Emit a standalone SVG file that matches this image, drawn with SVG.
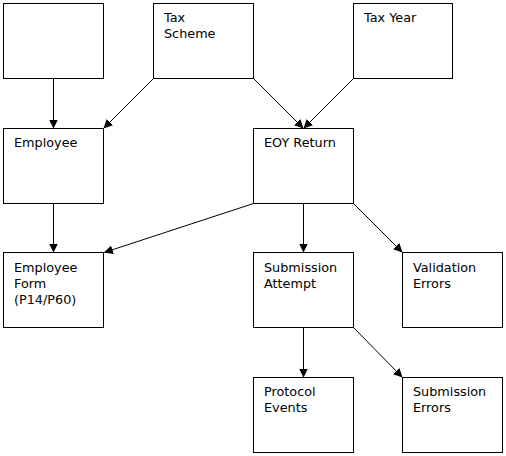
<svg xmlns="http://www.w3.org/2000/svg" width="506" height="456" viewBox="0 0 506 456">
<style>
.box{fill:#fff;stroke:#000;stroke-width:1}
.t{font-family:"DejaVu Sans",Verdana,sans-serif;font-size:12.8px;fill:#000}
.c{stroke:#000;stroke-width:1;fill:none;marker-end:url(#ah)}
</style>
<defs>
<marker id="ah" viewBox="0 0 10 10" refX="10" refY="5" markerWidth="9" markerHeight="9" markerUnits="userSpaceOnUse" orient="auto">
<path d="M0,0 L10,5 L0,10 z" fill="#000"/>
</marker>
</defs>
<rect width="506" height="456" fill="#fff"/>
<g id="connectors">
<line class="c" x1="53.5" y1="78.5" x2="53.5" y2="128.5"/>
<line class="c" x1="153.5" y1="78.5" x2="103.5" y2="128.5"/>
<line class="c" x1="253.5" y1="78.5" x2="303.5" y2="128.5"/>
<line class="c" x1="353.5" y1="78.5" x2="303.5" y2="128.5"/>
<line class="c" x1="53.5" y1="203.5" x2="53.5" y2="252.5"/>
<line class="c" x1="253.5" y1="203.5" x2="104" y2="252.5"/>
<line class="c" x1="303.5" y1="203.5" x2="303.5" y2="252.5"/>
<line class="c" x1="353.5" y1="203.5" x2="402.5" y2="252.5"/>
<line class="c" x1="303.5" y1="327.5" x2="303.5" y2="377.5"/>
<line class="c" x1="353.5" y1="327.5" x2="402.5" y2="377.5"/>
</g>
<g id="blank"><rect class="box" x="3.5" y="3.5" width="100" height="75"/></g>
<g id="tax-scheme"><rect class="box" x="153.5" y="3.5" width="100" height="75"/>
<text class="t" x="164" y="22">Tax</text><text class="t" x="164" y="38">Scheme</text></g>
<g id="tax-year"><rect class="box" x="353.5" y="3.5" width="99" height="75"/>
<text class="t" x="364" y="22">Tax Year</text></g>
<g id="employee"><rect class="box" x="3.5" y="128.5" width="100" height="75"/>
<text class="t" x="14" y="147">Employee</text></g>
<g id="eoy-return"><rect class="box" x="253.5" y="128.5" width="100" height="75"/>
<text class="t" x="264" y="147">EOY Return</text></g>
<g id="employee-form"><rect class="box" x="3.5" y="252.5" width="100" height="75"/>
<text class="t" x="14" y="272">Employee</text><text class="t" x="14" y="288">Form</text><text class="t" x="14" y="304">(P14/P60)</text></g>
<g id="submission-attempt"><rect class="box" x="253.5" y="252.5" width="100" height="75"/>
<text class="t" x="264" y="272">Submission</text><text class="t" x="264" y="288">Attempt</text></g>
<g id="validation-errors"><rect class="box" x="402.5" y="252.5" width="100" height="75"/>
<text class="t" x="413" y="272">Validation</text><text class="t" x="413" y="288">Errors</text></g>
<g id="protocol-events"><rect class="box" x="253.5" y="377.5" width="100" height="75"/>
<text class="t" x="264" y="396">Protocol</text><text class="t" x="264" y="412">Events</text></g>
<g id="submission-errors"><rect class="box" x="402.5" y="377.5" width="100" height="75"/>
<text class="t" x="413" y="396">Submission</text><text class="t" x="413" y="412">Errors</text></g>
</svg>
